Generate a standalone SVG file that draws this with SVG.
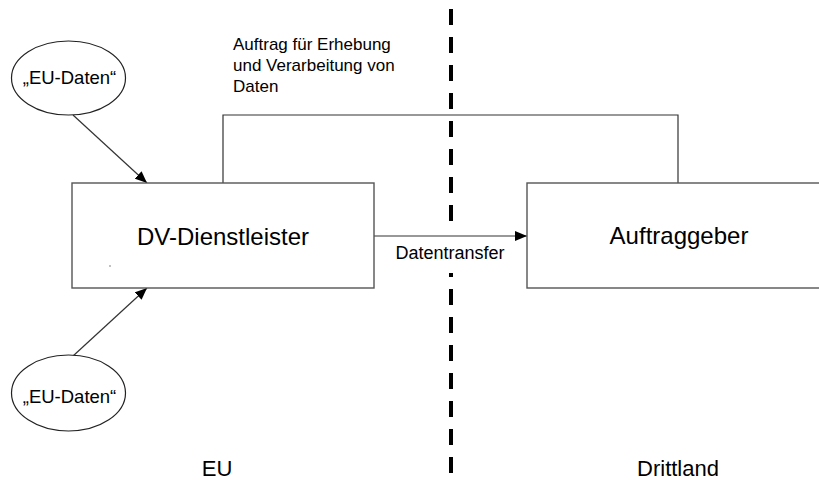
<svg xmlns="http://www.w3.org/2000/svg" width="819" height="484" viewBox="0 0 819 484">
<style>
text{font-family:"Liberation Sans",Arial,sans-serif;fill:#000}
.box{fill:#fff;stroke:#555;stroke-width:1.4}
.ell{fill:#fff;stroke:#222;stroke-width:1.2}
.con{fill:none;stroke:#333;stroke-width:1.2}
.div{stroke:#000;stroke-width:4;stroke-dasharray:16 12}
</style>
<defs>
<marker id="ah" viewBox="0 0 12 10" refX="12" refY="5" markerWidth="12" markerHeight="10" markerUnits="userSpaceOnUse" orient="auto">
<path d="M0,0 L12,5 L0,10 Z" fill="#000"/>
</marker>
</defs>
<line class="div" x1="451" y1="9" x2="451" y2="484"/>
<g id="connectors">
<polyline class="con" points="223,183 223,115 678,115 678,183"/>
<line class="con" x1="73" y1="115" x2="147" y2="183" marker-end="url(#ah)"/>
<line class="con" x1="73" y1="356" x2="147" y2="288" marker-end="url(#ah)"/>
<rect x="390" y="222" width="120" height="51" fill="#fff"/>
<line class="con" x1="374" y1="236" x2="527" y2="236" marker-end="url(#ah)"/>
<text x="450" y="259" font-size="18" text-anchor="middle">Datentransfer</text>
<text font-size="17"><tspan x="233" y="50">Auftrag für Erhebung</tspan><tspan x="233" y="71">und Verarbeitung von</tspan><tspan x="233" y="92">Daten</tspan></text>
</g>
<g id="dv">
<rect class="box" x="72" y="183" width="302" height="105"/>
<text x="223" y="245" font-size="24" text-anchor="middle">DV-Dienstleister</text>
<circle cx="110" cy="266" r="0.7" fill="#555"/>
</g>
<g id="auftraggeber">
<rect class="box" x="527" y="183" width="310" height="105"/>
<text x="679" y="244" font-size="24" text-anchor="middle">Auftraggeber</text>
</g>
<g id="eu1">
<ellipse class="ell" cx="68.5" cy="78" rx="57" ry="37"/>
<text x="69.5" y="84" font-size="18.5" text-anchor="middle">„EU-Daten“</text>
</g>
<g id="eu2">
<ellipse class="ell" cx="68.5" cy="393" rx="57" ry="38"/>
<text x="69.5" y="403" font-size="18.5" text-anchor="middle">„EU-Daten“</text>
</g>
<g id="labels">
<text x="217" y="476" font-size="22" text-anchor="middle">EU</text>
<text x="678" y="476" font-size="22" text-anchor="middle">Drittland</text>
</g>
</svg>
